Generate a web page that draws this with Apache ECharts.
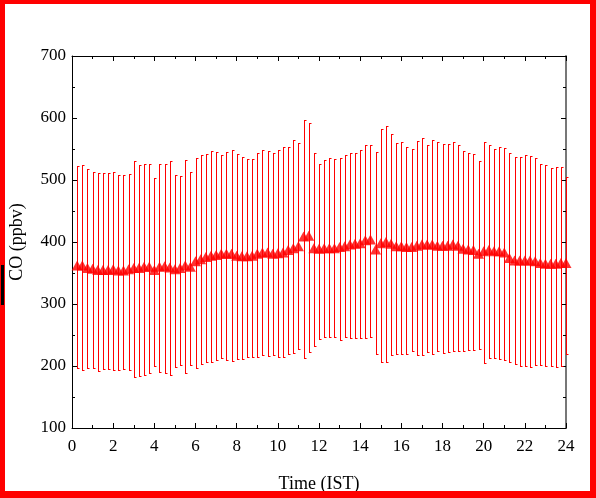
<!DOCTYPE html>
<html><head><meta charset="utf-8">
<script src="https://cdn.jsdelivr.net/npm/echarts@6/dist/echarts.min.js"></script>
<style>
html,body{margin:0;padding:0;background:#fff}
#c{width:596px;height:498px;position:absolute;left:0;top:0}
#frame{position:absolute;left:0;top:0;width:596px;height:498px;box-sizing:border-box;border-style:solid;border-color:#ff0000;border-width:4px 6px 7px 5px;pointer-events:none}
#mark{position:absolute;left:1px;top:265px;width:3px;height:40px;background:#000}
</style></head><body>
<div id="c"></div><div id="frame"></div><div id="mark"></div>
<script>
const hours = [0.25,0.5,0.75,1,1.25,1.5,1.75,2,2.25,2.5,2.75,3,3.25,3.5,3.75,4,4.25,4.5,4.75,5,5.25,5.5,5.75,6,
6.25,6.5,6.75,7,7.25,7.5,7.75,8,8.25,8.5,8.75,9,9.25,9.5,9.75,10,10.25,10.5,10.75,11,11.25,11.5,11.75,12,
12.25,12.5,12.75,13,13.25,13.5,13.75,14,14.25,14.5,14.75,15,15.25,15.5,15.75,16,16.25,16.5,16.75,17,17.25,17.5,17.75,18,
18.25,18.5,18.75,19,19.25,19.5,19.75,20,20.25,20.5,20.75,21,21.25,21.5,21.75,22,22.25,22.5,22.75,23,23.25,23.5,23.75,24];

const meanCO = [362,362,358,357,355,355,355,356,354,354,356,358,358,360,360,355,360,361,359,356,358,362,360,369,
372,376,378,379,381,381,381,378,377,377,378,381,383,383,381,382,383,387,390,393,409,410,390,389,
390,390,390,392,393,396,397,398,403,404,388,398,400,397,393,393,392,392,394,396,396,396,394,394,
394,396,394,389,388,387,381,385,387,385,385,383,374,370,370,370,370,369,366,365,365,365,366,366];

const upperCO = [522,524,517,513,512,511,511,513,508,508,510,530,524,526,526,504,526,526,530,508,506,532,513,536,
540,542,546,545,540,545,548,542,537,534,534,544,549,546,543,548,554,554,565,559,596,592,543,526,
532,535,534,536,540,543,544,548,556,556,545,583,587,574,560,561,554,550,563,567,557,564,561,558,
558,562,556,547,544,542,531,561,557,550,553,552,544,537,537,540,539,535,526,524,519,521,521,505];

const lowerCO = [197,194,196,196,192,195,195,194,194,195,194,182,184,186,188,200,190,189,185,199,201,188,202,196,
203,206,206,210,213,209,208,212,212,214,215,215,217,216,217,215,215,219,221,228,213,223,232,244,
247,246,246,242,246,245,245,245,245,247,220,207,206,217,219,220,220,224,217,218,223,220,224,221,
223,224,225,224,226,226,227,205,213,213,212,210,206,204,200,200,198,201,201,200,200,198,200,219];

const xTicks = [0,2,4,6,8,10,12,14,16,18,20,22,24];
const yTicks = [100,200,300,400,500,600,700];

const errData = hours.map((h,i)=>[h, lowerCO[i], upperCO[i]]);
const meanData = hours.map((h,i)=>[h, meanCO[i]]);

const font = 'Liberation Serif';
const chart = echarts.init(document.getElementById('c'), null, {renderer:'canvas'});
const axisCommon = {
  axisLine:{show:true, onZero:false, lineStyle:{color:'#000', width:1}},
  axisTick:{show:true, inside:true, length:5, lineStyle:{color:'#000'}},
  minorTick:{show:true, splitNumber:2, length:3, lineStyle:{color:'#000'}},
  splitLine:{show:false}, minorSplitLine:{show:false}
};
chart.setOption({
  animation:false,
  backgroundColor:'#fff',
  grid:{left:72, right:30, top:56, bottom:70, containLabel:false},
  xAxis:[
    Object.assign({type:'value', min:xTicks[0], max:xTicks[xTicks.length-1], interval:2, position:'bottom',
      name:'Time (IST)', nameLocation:'middle', nameGap:47,
      nameTextStyle:{fontFamily:font, fontSize:18, color:'#000'},
      axisLabel:{fontFamily:font, fontSize:17, color:'#000', margin:10}}, axisCommon),
    Object.assign({type:'value', min:0, max:24, interval:2, position:'top', axisLabel:{show:false}}, axisCommon)
  ],
  yAxis:[
    Object.assign({type:'value', min:yTicks[0], max:yTicks[yTicks.length-1], interval:100, position:'left',
      name:'CO (ppbv)', nameLocation:'middle', nameGap:46, nameRotate:90,
      nameTextStyle:{fontFamily:font, fontSize:18, color:'#000'},
      axisLabel:{fontFamily:font, fontSize:17, color:'#000', margin:6}}, axisCommon),
    Object.assign({type:'value', min:100, max:700, interval:100, position:'right', axisLabel:{show:false}}, axisCommon,
      {axisLine:{show:true, onZero:false, lineStyle:{color:'#777', width:2}}})
  ],
  series:[
    {
      type:'custom', xAxisIndex:0, yAxisIndex:0, data:errData,
      encode:{x:0, y:[1,2]}, clip:false,
      renderItem:function(params, api){
        const x = api.value(0), lo = api.value(1), hi = api.value(2);
        const pHi = api.coord([x, hi]), pLo = api.coord([x, lo]);
        const cx = Math.round(pHi[0]) + 0.5;
        const yh = Math.round(pHi[1]) + 0.5, yl = Math.round(pLo[1]) + 0.5;
        const st = {stroke:'#ff0000', lineWidth:1};
        return {type:'group', children:[
          {type:'line', shape:{x1:cx, y1:yh, x2:cx, y2:yl}, style:st},
          {type:'line', shape:{x1:cx-0.5, y1:yh, x2:cx+2, y2:yh}, style:st},
          {type:'line', shape:{x1:cx-0.5, y1:yl, x2:cx+2, y2:yl}, style:st}
        ]};
      }
    },
    {
      type:'scatter', xAxisIndex:0, yAxisIndex:0, data:meanData,
      symbol:'triangle', symbolSize:[11,10],
      itemStyle:{color:'#ff0000'}
    }
  ]
});
</script>
</body></html>
